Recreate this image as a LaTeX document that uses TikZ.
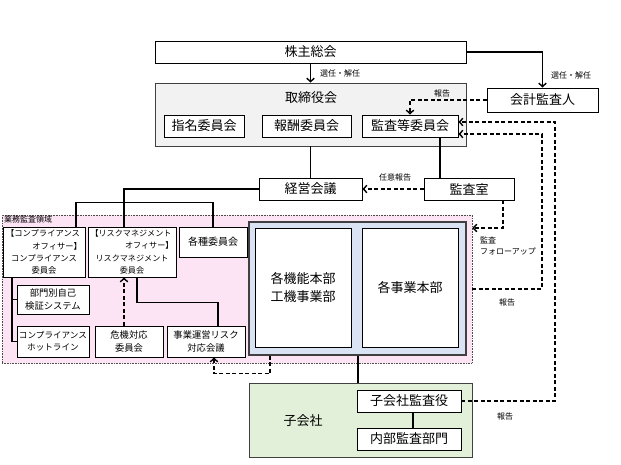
\documentclass[tikz,border=0pt]{standalone}
\usepackage{fontspec}
\setmainfont{Noto Sans CJK JP}
\usetikzlibrary{arrows.meta}
\definecolor{pinkbg}{HTML}{FCE4F5}
\definecolor{bluebg}{HTML}{DAE3F3}
\definecolor{greenbg}{HTML}{E2F0D9}
\definecolor{graybg}{HTML}{F2F2F2}
\definecolor{frame}{HTML}{404040}
\begin{document}
\begin{tikzpicture}[x=1pt,y=-1pt,
  box/.style={draw=black, line width=0.9pt, fill=white, inner sep=0pt, font=\fontsize{13}{14}\selectfont},
  sbox/.style={box, font=\fontsize{9.3}{12.3}\selectfont, align=center},
  region/.style={inner sep=0pt},
  conn/.style={line width=1.4pt},
  dconn/.style={line width=1.4pt, dash pattern=on 4pt off 2.5pt},
  arr/.style={-{Straight Barb[length=3.5pt,width=7.5pt]}},
  lbl/.style={font=\fontsize{8}{11}\selectfont, inner sep=0pt},
]
\useasboundingbox (0,0) rectangle (621,465);

% regions
\node[region, draw=frame, line width=0.8pt, fill=graybg, minimum width=311pt, minimum height=63pt] (tori) at (310.5,114.5) {};
\node[font=\fontsize{13}{14}\selectfont, inner sep=0pt] (toril) at (311,98) {取締役会};
\node[region, draw=black!70, densely dotted, line width=0.6pt, fill=pinkbg, minimum width=470pt, minimum height=148pt] (pink) at (237,289) {};
\node[lbl, anchor=north west] (pinkl) at (4,216) {業務監査領域};
\node[region, draw=frame, line width=1.2pt, fill=bluebg, minimum width=217pt, minimum height=133pt] (blue) at (357.5,288.5) {};
\node[region, draw=frame, line width=1pt, fill=greenbg, minimum width=223pt, minimum height=74pt] (kogaisha) at (360.5,420) {};
\node[font=\fontsize{13}{14}\selectfont, inner sep=0pt] (kogaishal) at (303,421) {子会社};

% boxes
\node[box, minimum width=311pt, minimum height=22pt] (kabu) at (310.5,52) {株主総会};
\node[box, minimum width=80pt, minimum height=22pt] (shimei) at (204,126) {指名委員会};
\node[box, minimum width=89pt, minimum height=22pt] (hoshu) at (306.5,126) {報酬委員会};
\node[box, minimum width=96pt, minimum height=22pt] (kansa) at (410,126) {監査等委員会};
\node[box, minimum width=111pt, minimum height=24pt] (kaikei) at (542.5,100) {会計監査人};
\node[box, minimum width=103pt, minimum height=22pt] (keiei) at (310.5,189) {経営会議};
\node[box, minimum width=90pt, minimum height=22pt] (kansashitsu) at (469,189) {監査室};

\node[sbox, font=\fontsize{8.3}{12.3}\selectfont, minimum width=82pt, minimum height=50pt] (comp) at (44,252)
  {\makebox[76pt][l]{【コンプライアンス}\\\makebox[76pt][r]{オフィサー】}\\コンプライアンス\\委員会};
\node[sbox, font=\fontsize{8.1}{12.3}\selectfont, minimum width=88pt, minimum height=50pt] (risk) at (132,252)
  {\makebox[83pt][l]{【リスクマネジメント}\\\makebox[83pt][r]{オフィサー】}\\リスクマネジメント\\委員会};
\node[sbox, font=\fontsize{10}{12.3}\selectfont, minimum width=68pt, minimum height=30pt] (kakushu) at (213,242) {各種委員会};
\node[box, minimum width=96pt, minimum height=119pt, align=center, font=\fontsize{13}{17.5}\selectfont] (kino) at (303,287.5) {各機能本部\\工機事業部};
\node[box, minimum width=96pt, minimum height=119pt] (jigyo) at (410,287.5) {各事業本部};
\node[sbox, minimum width=72pt, minimum height=29pt] (bumon) at (53,299.5) {部門別自己\\検証システム};
\node[sbox, font=\fontsize{8.6}{12.3}\selectfont, minimum width=72pt, minimum height=31pt] (hotline) at (53,341.5) {コンプライアンス\\ホットライン};
\node[sbox, minimum width=68pt, minimum height=31pt] (kiki) at (129,341.5) {危機対応\\委員会};
\node[sbox, minimum width=78pt, minimum height=31pt] (jigyorisk) at (206,341.5) {事業運営リスク\\対応会議};
\node[box, minimum width=104pt, minimum height=22pt] (kansayaku) at (409,401) {子会社監査役};
\node[box, minimum width=104pt, minimum height=22pt] (naibu) at (409,439) {内部監査部門};

% connectors
\draw[conn,arr] (kabu.south) -- (tori.north);
\node[lbl, anchor=west] (l1) at (320,73) {選任・解任};
\draw[conn,arr] (kabu.east) -| (kaikei.north);
\node[lbl, anchor=west] (l2) at (551,75) {選任・解任};
\draw[dconn,arr] (kaikei.west) -| (kansa.north);
\node[lbl] (l3) at (442,93) {報告};
\draw[dconn,arr] (kansayaku.east) -- (555,401) -- (555,122) -- ([yshift=4pt]kansa.east);
\node[lbl] (l4) at (505,416) {報告};
\draw[dconn,arr] (pink.east) -- (542,289) -- (542,134) -- ([yshift=-8pt]kansa.east);
\node[lbl] (l5) at (507,302) {報告};
\draw[conn] (tori.south) -- (keiei.north);
\draw[conn] ([xshift=30pt]kansa.south) -- ([xshift=30pt]kansa.south |- kansashitsu.north);
\draw[dconn,arr] (kansashitsu.west) -- (keiei.east);
\node[lbl] (l6) at (395,177) {任意報告};
\draw[dconn,arr] ([xshift=34pt]kansashitsu.south) |- ([yshift=61pt]pink.east);
\node[lbl, anchor=north west, align=left] (l7) at (480,237) {監査\\フォローアップ};
\draw[conn] (keiei.west) -| ([xshift=-8pt]risk.north);
\draw[conn] ([xshift=32pt]comp.north) -- ++(0,-24) -| (kakushu.north);
\draw[conn] ([xshift=-32pt]comp.south) |- (hotline.west);
\draw[conn] ([xshift=-32pt]comp.south |- bumon.west) -- (bumon.west);
\draw[dconn,arr] ([xshift=-5pt]kiki.north) -- ([xshift=-5pt]kiki.north |- risk.south);
\draw[conn] ([xshift=5pt]risk.south) -- ++(0,25) -| ([xshift=12pt]jigyorisk.north);
\draw[dconn,arr] ([xshift=-87.5pt]blue.south) -- ++(0,18) -| ([xshift=8pt]jigyorisk.south);
\draw[conn] ([xshift=0.5pt]blue.south) -- ([xshift=0.5pt]blue.south |- kogaisha.north);
\draw[conn] ([xshift=4pt]kansayaku.south) -- ([xshift=4pt]naibu.north);
\end{tikzpicture}
\end{document}
